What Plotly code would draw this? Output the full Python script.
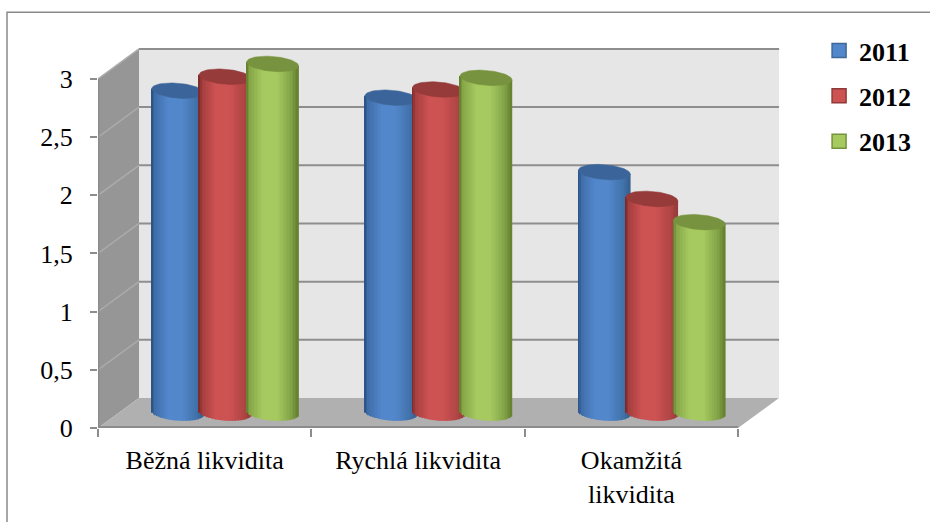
import numpy as np
import plotly.graph_objects as go

categories = ["Běžná likvidita", "Rychlá likvidita", "Okamžitá<br>likvidita"]
series_names = ["2011", "2012", "2013"]
values_2011 = [2.77, 2.71, 2.07]
values_2012 = [2.89, 2.78, 1.84]
values_2013 = [3.00, 2.88, 1.64]
y_ticks = [0, 0.5, 1, 1.5, 2, 2.5, 3]
y_labels = ["0", "0,5", "1", "1,5", "2", "2,5", "3"]

FONT = "Liberation Serif"
# Pixel geometry of the oblique projection
LEFT, BOTTOM, PX_CAT, PX_VAL = 98, 428, 213.33, 116.4
WIDTH, HEIGHT = 930, 522
X_MAX, Y_MAX = 3.22, 3.30
PLOT_W, PLOT_H = X_MAX * PX_CAT, Y_MAX * PX_VAL
DX, DY = 41 / PX_CAT, 30 / PX_VAL      # depth of the box in axis units

# Cylinder shape, in pixels then axis units
RADIUS = 26 / PX_CAT
STEP = 47.5 / PX_CAT
CAP_B = 7.5 / PX_VAL
TILT = 2.0 / PX_VAL
N_STRIPS = 34

BODY = {
    "2011": dict(left="#284e7e", mid="#5287cb", right="#34608f", cap="#3b659a", edge="#3f6797"),
    "2012": dict(left="#762828", mid="#cd5252", right="#963a3a", cap="#963a3a", edge="#8f3a38"),
    "2013": dict(left="#5f7a2b", mid="#a6ca60", right="#637f30", cap="#77933f", edge="#76923c"),
}


def rgb(h):
    return np.array([int(h[i:i + 2], 16) for i in (1, 3, 5)], float)


def shade(style, u):
    """Colour across a cylinder, u running from 0 (left) to 1 (right)."""
    stops = [0, 0.07, 0.32, 0.60, 0.88, 1]
    cols = [rgb(style["left"]), rgb(style["left"]) * 0.45 + rgb(style["mid"]) * 0.55, rgb(style["mid"]),
            rgb(style["mid"]), rgb(style["right"]) * 0.55 + rgb(style["mid"]) * 0.45, rgb(style["right"])]
    c = [np.interp(u, stops, [k[j] for k in cols]) for j in range(3)]
    return "rgb(%d,%d,%d)" % tuple(c)


def paper_x(px):
    return (px - LEFT) / PLOT_W


def paper_y(py):
    return (BOTTOM - py) / PLOT_H


fig = go.Figure()

# Box walls, floor and gridlines
shapes = []


def poly(pts, fill):
    path = "M" + " L".join(f"{x},{y}" for x, y in pts) + " Z"
    shapes.append(dict(type="path", path=path, xref="x", yref="y", fillcolor=fill,
                       line=dict(width=0), layer="below"))


def seg(x0, y0, x1, y1, color, width):
    shapes.append(dict(type="line", x0=x0, y0=y0, x1=x1, y1=y1, xref="x", yref="y",
                       line=dict(color=color, width=width), layer="below"))


poly([(DX, DY), (3 + DX, DY), (3 + DX, 3 + DY), (DX, 3 + DY)], "#e6e6e6")
poly([(0, 0), (DX, DY), (DX, 3 + DY), (0, 3)], "#969696")
poly([(0, 0), (3, 0), (3 + DX, DY), (DX, DY)], "#b0b0b0")
for t in y_ticks[1:]:
    seg(DX, t + DY, 3 + DX, t + DY, "#8e8e8e", 2)
    seg(0, t, DX, t + DY, "#ababab", 1.5)
seg(0, 0, 3, 0, "#8c8c8c", 4)
seg(0, 0, 0, 3, "#8c8c8c", 3)
fig.update_layout(shapes=shapes)

# Outer chart border: top and left edges run off the page
frame_path = f"M{paper_x(7)},{paper_y(WIDTH)} L{paper_x(7)},{paper_y(12)} L{paper_x(WIDTH + 5)},{paper_y(12)}"
fig.add_shape(type="path", path=frame_path, xref="paper", yref="paper",
              line=dict(color="#8a8a8a", width=1.5), layer="above")

# Cylinders, one bar trace of narrow shaded strips plus a cap per series
theta = np.linspace(0, 2 * np.pi, 73)
u_mid = (np.arange(N_STRIPS) + 0.5) / N_STRIPS
z = 1
for s, (name, vals) in enumerate(zip(series_names, [values_2011, values_2012, values_2013])):
    style = BODY[name]
    xs, tops, bases, cols = [], [], [], []
    cap_x, cap_y = [], []
    for i, v in enumerate(vals):
        cx = i + 0.5 + DX / 2 + (s - 1) * STEP
        c0 = DY / 2
        for u in u_mid:
            k = 2 * u - 1
            xs.append(cx + k * RADIUS)
            low = c0 - TILT * k - CAP_B * np.sqrt(1 - k * k)
            bases.append(low)
            tops.append(v + c0 - TILT * k - low)
            cols.append(shade(style, u))
        cap_x += list(cx + RADIUS * np.cos(theta)) + [None]
        cap_y += list(v + c0 - TILT * np.cos(theta) + CAP_B * np.sin(theta)) + [None]
    fig.add_trace(go.Bar(x=xs, y=tops, base=bases, width=RADIUS * 2 / N_STRIPS * 1.25,
                         marker=dict(color=cols, line=dict(width=0)), showlegend=False,
                         hoverinfo="skip", zorder=z))
    fig.add_trace(go.Scatter(x=cap_x, y=cap_y, mode="lines", fill="toself", fillcolor=style["cap"],
                             line=dict(color=style["edge"], width=0.5), showlegend=False,
                             hoverinfo="skip", zorder=z + 1))
    z += 2

# Legend entries
for name in series_names:
    style = BODY[name]
    fig.add_trace(go.Scatter(x=[None], y=[None], mode="markers", name=name, legendgroup=name,
                             marker=dict(symbol="square", size=14, color=style["mid"],
                                         line=dict(color=style["edge"], width=1.5))))

fig.update_layout(
    width=WIDTH, height=HEIGHT, barmode="overlay",
    margin=dict(l=LEFT, r=WIDTH - LEFT - PLOT_W, t=BOTTOM - PLOT_H, b=HEIGHT - BOTTOM, pad=0, autoexpand=False),
    paper_bgcolor="white", plot_bgcolor="white",
    font=dict(family=FONT, size=26, color="black"),
    legend=dict(x=paper_x(819), y=paper_y(27), xanchor="left", yanchor="top",
                tracegroupgap=8.5, font=dict(family=FONT, size=26, color="black", weight="bold"),
                bgcolor="rgba(0,0,0,0)", borderwidth=0),
    xaxis=dict(range=[0, X_MAX], showgrid=False, zeroline=False, showline=False,
               tickmode="array", tickvals=[0.5, 1.5, 2.5], ticktext=categories, ticks="", tickangle=0,
               ticklabelstandoff=14,
               minor=dict(tickmode="array", tickvals=[0, 1, 2, 3], ticks="outside", ticklen=8,
                          tickwidth=1.5, tickcolor="#8c8c8c", showgrid=False)),
    yaxis=dict(range=[0, Y_MAX], showgrid=False, zeroline=False, showline=False,
               tickmode="array", tickvals=y_ticks, ticktext=y_labels, ticks="outside", ticklen=7,
               tickwidth=1.5, tickcolor="#8c8c8c", ticklabelstandoff=12),
)

fig.write_html("out.html")
